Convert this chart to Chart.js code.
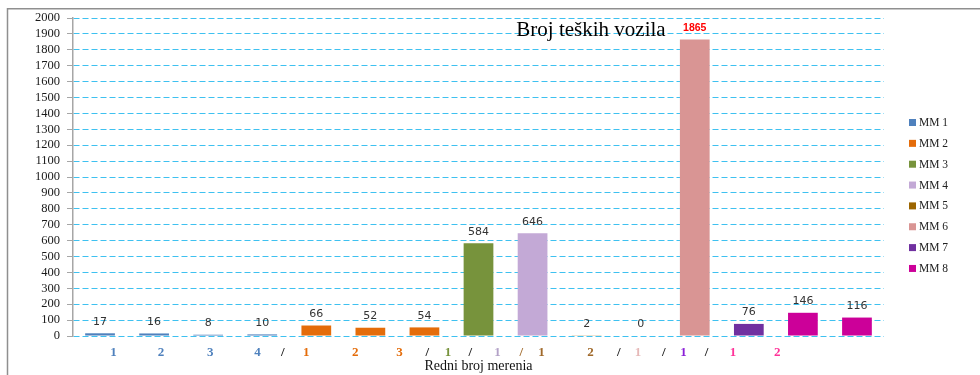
<!DOCTYPE html>
<html>
<head>
<meta charset="utf-8">
<title>Broj teških vozila</title>
<script src="https://cdn.jsdelivr.net/npm/chart.js@4/dist/chart.umd.min.js"></script>
<style>
  html, body { margin: 0; padding: 0; background: #fff; }
  #wrap { width: 980px; height: 375px; }
</style>
</head>
<body>
<div id="wrap"><canvas id="chart" width="980" height="375"></canvas></div>
<script>
// one bar per measurement, grouped by measuring point
const measureNo = ['1', '2', '3', '4', '1', '2', '3', '1', '1', '1', '2', '1', '1', '1', '2'];
const heavyVehicles = [17, 16, 8, 10, 66, 52, 54, 584, 646, 2, 0, 1865, 76, 146, 116];
const pointOf = [0, 0, 0, 0, 1, 1, 1, 2, 3, 4, 4, 5, 6, 7, 7];
const pointNames = ['MM 1', 'MM 2', 'MM 3', 'MM 4', 'MM 5', 'MM 6', 'MM 7', 'MM 8'];

// bottom labels, placed along the bar index scale
const tickText = ['1', '2', '3', '4', '/', '1', '2', '3', '/', '1', '/', '1', '/', '1', '2', '/', '1', '/', '1', '/', '1', '2'];
const tickPos = [-0.07, 0.85, 1.8, 2.72, 3.21, 3.66, 4.61, 5.47, 6.01, 6.41, 6.84, 7.37, 7.83, 8.22, 9.17, 9.72, 10.09, 10.59, 10.97, 11.42, 11.93, 12.79];
const tickPoint = [0, 0, 0, 0, -1, 1, 1, 1, -1, 2, -1, 3, 4, 4, 4, -1, 5, -1, 6, -1, 7, 7];

const barColors = ['#4F81BD', '#E46C0A', '#77933C', '#C3A9D6', '#9C6500', '#D99594', '#7030A0', '#CC0099'];
const tickColors = ['#4F81BD', '#E46C0A', '#77933C', '#B3A2C7', '#A0692A', '#E6B9B8', '#8B1FD8', '#FF3399'];

const datasets = pointNames.map((name, p) => ({
  label: name,
  data: heavyVehicles.map((v, i) => (pointOf[i] === p ? v : null)),
  backgroundColor: barColors[p],
  grouped: false,
  barPercentage: 0.55,
  categoryPercentage: 1
}));

const maxValue = Math.max(...heavyVehicles);

const decorations = {
  id: 'decorations',
  beforeDraw(chart) {
    const ctx = chart.ctx;
    ctx.save();
    ctx.strokeStyle = '#8f8f8f';
    ctx.lineWidth = 1.5;
    ctx.beginPath();
    ctx.moveTo(7.5, chart.height);
    ctx.lineTo(7.5, 8.75);
    ctx.lineTo(chart.width, 8.75);
    ctx.stroke();
    ctx.restore();
  },
  afterDatasetsDraw(chart) {
    const ctx = chart.ctx;
    const area = chart.chartArea;
    ctx.save();
    ctx.textAlign = 'center';
    ctx.textBaseline = 'bottom';
    chart.data.datasets.forEach((ds, di) => {
      chart.getDatasetMeta(di).data.forEach((bar, i) => {
        const v = ds.data[i];
        if (v === null) return;
        if (v === maxValue) {
          ctx.fillStyle = '#FF0000';
          ctx.font = 'bold 10.5px "Liberation Sans", Arial, sans-serif';
        } else {
          ctx.fillStyle = '#333333';
          ctx.font = '11px "DejaVu Sans", sans-serif';
        }
        ctx.fillText(String(v), bar.x, bar.y - 6);
      });
    });

    // chart title sits inside the plot area
    ctx.fillStyle = '#000';
    ctx.font = '21px "Liberation Serif", "Times New Roman", serif';
    ctx.textBaseline = 'alphabetic';
    ctx.fillText('Broj teških vozila', area.left + 518, area.top + 18);

    // legend on the right
    ctx.font = '11.5px "Liberation Serif", "Times New Roman", serif';
    ctx.textAlign = 'left';
    ctx.textBaseline = 'middle';
    chart.data.datasets.forEach((ds, di) => {
      const y = 122.5 + di * 20.85;
      const x = area.right + 25;
      ctx.fillStyle = ds.backgroundColor;
      ctx.fillRect(x, y - 3.5, 7, 7);
      ctx.fillStyle = '#222';
      ctx.fillText(ds.label, x + 10, y + 0.5);
    });
    ctx.restore();
  }
};

new Chart(document.getElementById('chart'), {
  type: 'bar',
  data: { labels: measureNo, datasets },
  plugins: [decorations],
  options: {
    responsive: false,
    animation: false,
    layout: { padding: { top: 18, right: 96, left: 0, bottom: 0 } },
    plugins: {
      legend: { display: false },
      tooltip: { enabled: false }
    },
    scales: {
      x: { display: false },
      x2: {
        type: 'linear',
        position: 'bottom',
        min: -0.5,
        max: 14.5,
        afterBuildTicks: s => { s.ticks = tickPos.map(v => ({ value: v })); },
        afterFit: s => { s.height = 39; },
        grid: { display: false, drawTicks: false },
        border: { display: false },
        ticks: {
          autoSkip: false,
          maxRotation: 0,
          padding: 9,
          callback: (v, i) => tickText[i],
          color: c => (tickPoint[c.index] < 0 ? '#111' : tickColors[tickPoint[c.index]]),
          font: { family: '"Liberation Serif", "Times New Roman", serif', size: 13, weight: 'bold' }
        },
        title: {
          display: true,
          text: 'Redni broj merenia',
          color: '#111',
          padding: { top: 0, bottom: 0 },
          font: { family: '"Liberation Serif", "Times New Roman", serif', size: 14 }
        }
      },
      y: {
        min: 0,
        max: 2000,
        afterFit: s => { s.width = 73; },
        ticks: {
          stepSize: 100,
          autoSkip: false,
          padding: 7,
          callback: v => String(v),
          color: '#1a1a1a',
          font: { family: '"Liberation Serif", "Times New Roman", serif', size: 12.5 }
        },
        grid: {
          color: '#3EC1F0',
          lineWidth: 1,
          tickLength: 6,
          tickColor: '#a6a6a6',
          tickBorderDash: []
        },
        border: { color: '#a6a6a6', width: 1.5, dash: [6, 3] }
      }
    }
  }
});
</script>
</body>
</html>
